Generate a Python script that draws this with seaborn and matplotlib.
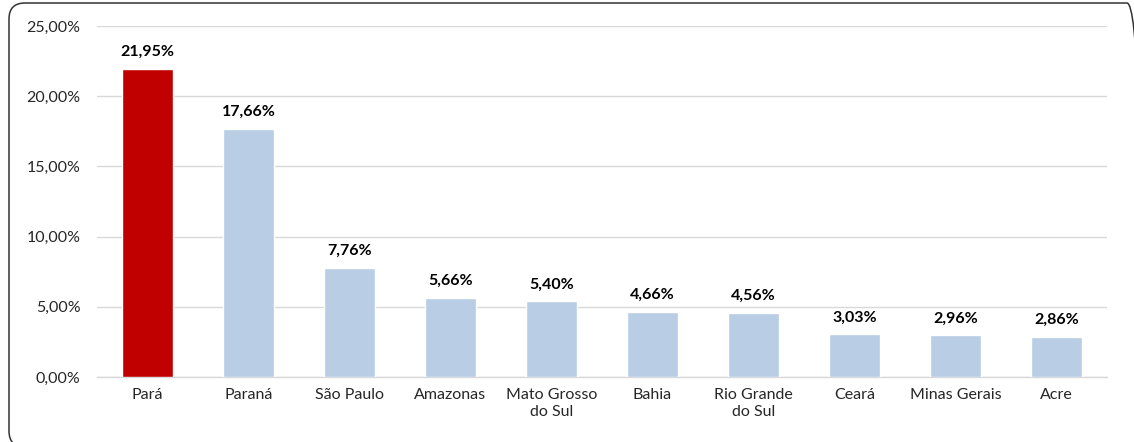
import matplotlib
matplotlib.use("Agg")
import matplotlib.pyplot as plt
import seaborn as sns
import pandas as pd
from matplotlib.patches import FancyBboxPatch

# ---------- DATA -------------------------------------------------------------
estados = ["Pará", "Paraná", "São Paulo", "Amazonas", "Mato Grosso\ndo Sul",
           "Bahia", "Rio Grande\ndo Sul", "Ceará", "Minas Gerais", "Acre"]
percentuais = [21.95, 17.66, 7.76, 5.66, 5.40, 4.66, 4.56, 3.03, 2.96, 2.86]
y_ticks = [0, 5, 10, 15, 20, 25]

df = pd.DataFrame({"Estado": estados, "Pct": percentuais})
cores = ["#C00000"] + ["#B9CDE5"] * (len(estados) - 1)

sns.set_theme(style="white")
plt.rcParams["font.family"] = ["Lato", "DejaVu Sans"]

fig = plt.figure(figsize=(11.34, 4.42), dpi=100)

# rounded chart frame, drawn in pixel units on a background axes (y up)
bg = fig.add_axes([0, 0, 1, 1])
bg.set_xlim(0, 1134)
bg.set_ylim(0, 442)
bg.axis("off")
bg.add_patch(FancyBboxPatch((9, -5), 1134, 444,
                            boxstyle="round,pad=0,rounding_size=16",
                            fill=False, edgecolor="#333333", linewidth=1.1,
                            clip_on=False))

ax = fig.add_axes([97 / 1134, 1 - 377 / 442, (1107 - 97) / 1134, (377 - 26) / 442])
ax.patch.set_alpha(0)

sns.barplot(data=df, x="Estado", y="Pct", hue="Estado", palette=cores,
            legend=False, width=0.5, saturation=1, ax=ax, zorder=3)

# labels on top of bars
for i, v in enumerate(percentuais):
    ax.text(i, v + 0.7, f"{v:.2f}%".replace(".", ","), ha="center", va="bottom",
            fontsize=11.5, fontweight="bold", color="black")

ax.set_ylim(0, 25)
ax.set_xlim(-0.5, len(estados) - 0.5)
ax.set_yticks(y_ticks)
ax.set_yticklabels([f"{t:.2f}%".replace(".", ",") for t in y_ticks], fontsize=11.5)
ax.set_xticks(range(len(estados)))
ax.set_xticklabels(estados, fontsize=11.5, linespacing=1.25)
ax.tick_params(axis="x", length=0, pad=8)
ax.tick_params(axis="y", length=0, pad=12)
ax.set_xlabel("")
ax.set_ylabel("")
ax.yaxis.grid(True, color="#D9D9D9", linewidth=1, zorder=0)
for s in ["top", "right", "left"]:
    ax.spines[s].set_visible(False)
ax.spines["bottom"].set_color("#D9D9D9")
ax.spines["bottom"].set_linewidth(1)

fig.savefig("out.png", dpi=100)
